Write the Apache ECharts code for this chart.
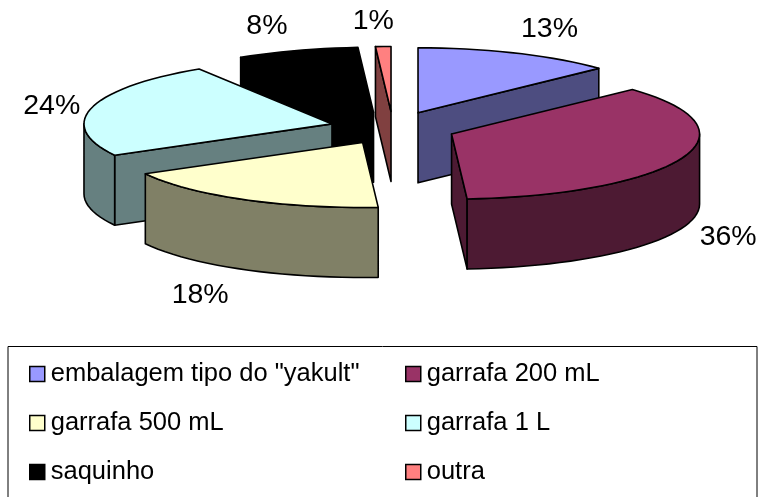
<!DOCTYPE html>
<html>
<head>
<meta charset="utf-8">
<style>html,body{margin:0;padding:0;background:#fff}#chart{width:760px;height:497px}</style>
<script src="https://cdn.jsdelivr.net/npm/echarts@6/dist/echarts.min.js"></script>
</head>
<body>
<div id="chart"></div>
<script>
// Packaging shares, clockwise from twelve o'clock
const categories = ['embalagem tipo do "yakult"', 'garrafa 200 mL', 'garrafa 500 mL', 'garrafa 1 L', 'saquinho', 'outra'];
const shares = [13, 36, 18, 24, 8, 1];
const topColors = ['#9999FF', '#993366', '#FFFFCC', '#CCFFFF', '#000000', '#FF8080'];
const wallColors = ['#4D4D80', '#4D1A33', '#808066', '#668080', '#000000', '#804040'];

// Pie geometry in pixels
const CX = 393, CY = 128, RX = 248, RY = 65, DEPTH = 70, EXPLODE = 63;
const FONT = '"Liberation Sans", Arial, sans-serif';
// Label shift from the slice's arc midpoint
const labelShift = [[33, -24], [46, 79], [-43, 96], [-40, -2], [-30, -24], [-10, -25]];
// Painter's order: back slices first
const drawOrder = [5, 0, 4, 3, 2, 1];

const total = shares.reduce((a, b) => a + b, 0);
const startShare = [];
shares.reduce((sum, v, i) => { startShare[i] = sum; return sum + v; }, 0);

const STROKE = { stroke: '#000', lineWidth: 1.6, lineJoin: 'round' };

function renderSlice(index) {
  return function () {
    const a0 = startShare[index] / total * 2 * Math.PI;
    const a1 = (startShare[index] + shares[index]) / total * 2 * Math.PI;
    const mid = (a0 + a1) / 2;
    const ax = CX + EXPLODE * Math.sin(mid);
    const ay = CY - EXPLODE * RY / RX * Math.cos(mid);
    const rim = (t, dz) => [ax + RX * Math.sin(t), ay - RY * Math.cos(t) + (dz || 0)];
    const apex = dz => [ax, ay + (dz || 0)];

    const arc = (from, to, dz) => {
      const n = Math.max(2, Math.ceil((to - from) / 0.05));
      const pts = [];
      for (let i = 0; i <= n; i++) pts.push(rim(from + (to - from) * i / n, dz));
      return pts;
    };
    const poly = (points, fill) => ({ type: 'polygon', shape: { points }, style: Object.assign({ fill }, STROKE) });
    const wall = wallColors[index];
    const children = [];

    // Radial walls facing the viewer
    if (Math.cos(a0 - Math.PI / 2) < -1e-6) {
      children.push(poly([apex(), rim(a0), rim(a0, DEPTH), apex(DEPTH)], wall));
    }
    if (Math.cos(a1 + Math.PI / 2) < -1e-6) {
      children.push(poly([apex(), rim(a1), rim(a1, DEPTH), apex(DEPTH)], wall));
    }
    // Outer wall: only the front half of the rim shows
    const f0 = Math.max(a0, Math.PI / 2), f1 = Math.min(a1, 3 * Math.PI / 2);
    if (f1 > f0) {
      children.push(poly(arc(f0, f1, 0).concat(arc(f0, f1, DEPTH).reverse()), wall));
    }
    // Top face
    children.push(poly([apex()].concat(arc(a0, a1, 0)), topColors[index]));
    // Percentage label
    const m = rim(mid);
    children.push({
      type: 'text',
      style: {
        x: m[0] + labelShift[index][0], y: m[1] + labelShift[index][1],
        text: shares[index] + '%', fill: '#000', font: '28.5px ' + FONT,
        textAlign: 'center', textVerticalAlign: 'middle'
      }
    });
    return { type: 'group', children };
  };
}

const legendBase = {
  orient: 'vertical', top: 356, itemGap: 23, itemWidth: 15, itemHeight: 15,
  icon: 'rect', selectedMode: false,
  textStyle: { fontFamily: FONT, fontSize: 25.5, color: '#000', padding: [0, 0, 0, 1] },
  itemStyle: { borderColor: '#000', borderWidth: 1.5 }
};

const chart = echarts.init(document.getElementById('chart'), null, { renderer: 'canvas' });
chart.setOption({
  animation: false,
  backgroundColor: '#fff',
  legend: [
    Object.assign({}, legendBase, { left: 24, data: [categories[0], categories[2], categories[4]] }),
    Object.assign({}, legendBase, { left: 400, data: [categories[1], categories[3], categories[5]] })
  ],
  graphic: [{
    type: 'rect', silent: true, z: -1,
    shape: { x: 8, y: 346.5, width: 749, height: 200 },
    style: { fill: '#fff', stroke: '#000', lineWidth: 1 }
  }],
  series: drawOrder.map((i, order) => ({
    type: 'custom',
    name: categories[i],
    coordinateSystem: 'none',
    z: 2 + order,
    silent: true,
    itemStyle: { color: topColors[i] },
    data: [[shares[i]]],
    renderItem: renderSlice(i)
  }))
});
</script>
</body>
</html>
